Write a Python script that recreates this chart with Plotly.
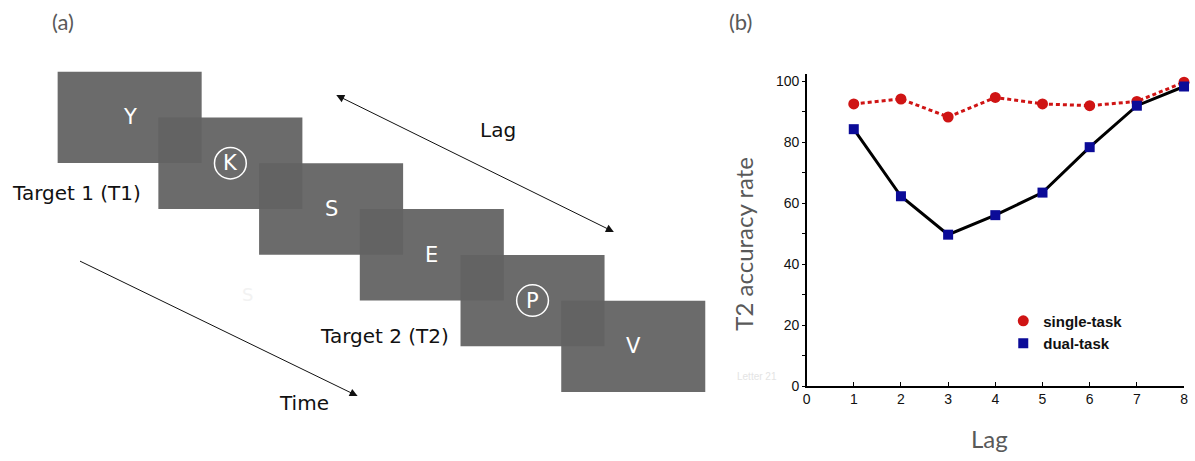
import plotly.graph_objects as go

# ---------------- data ----------------
lags = [1, 2, 3, 4, 5, 6, 7, 8]
single_task = [92.6, 94.2, 88.3, 94.7, 92.6, 92.0, 93.4, 99.7]
dual_task = [84.3, 62.3, 49.7, 56.1, 63.5, 78.4, 92.0, 98.3]
y_ticks = [0, 20, 40, 60, 80, 100]
x_ticks = [0, 1, 2, 3, 4, 5, 6, 7, 8]

stream_letters = ["Y", "K", "S", "E", "P", "V"]
target_index = [1, 4]          # circled letters (T1, T2)
target_labels = ["Target 1 (T1)", "Target 2 (T2)"]

W, H = 1195, 461
RED = "#cf1414"
NAVY = "#0b0b98"
GRAY_TXT = "#595959"

fig = go.Figure()

# ---------------- panel (b): line chart ----------------
fig.add_trace(go.Scatter(
    x=lags, y=single_task, mode="lines+markers", name="single-task",
    line=dict(color=RED, width=3, dash="4px,3px"),
    marker=dict(symbol="circle", size=11, color=RED),
    cliponaxis=False, showlegend=False, xaxis="x", yaxis="y"))
fig.add_trace(go.Scatter(
    x=lags, y=dual_task, mode="lines+markers", name="dual-task",
    line=dict(color="black", width=3),
    marker=dict(symbol="square", size=10, color=NAVY),
    cliponaxis=False, showlegend=False, xaxis="x", yaxis="y"))
# legend entries (markers only)
fig.add_trace(go.Scatter(x=[None], y=[None], mode="markers", name="single-task",
                         marker=dict(symbol="circle", size=11, color=RED),
                         xaxis="x", yaxis="y"))
fig.add_trace(go.Scatter(x=[None], y=[None], mode="markers", name="dual-task",
                         marker=dict(symbol="square", size=10, color=NAVY),
                         xaxis="x", yaxis="y"))

# ---------------- panel (a): RSVP diagram in pixel-like coordinates ----------------
x0, y0, dx, dy, rw, rh = 54, 73, 101.4, 46.6, 145, 93
shapes = []
annotations = []
for i, letter in enumerate(stream_letters):
    rx = x0 + i * dx
    ry = y0 + i * dy
    shapes.append(dict(type="rect", xref="x2", yref="y2",
                       x0=rx, x1=rx + rw, y0=ry, y1=ry + rh,
                       fillcolor="rgba(98,98,98,0.946)", line=dict(width=0),
                       layer="above"))
    cx, cy = rx + rw / 2, ry + rh / 2
    annotations.append(dict(xref="x2", yref="y2", x=cx, y=cy, text=letter,
                            showarrow=False,
                            font=dict(family="DejaVu Sans", size=21, color="white")))
    if i in target_index:
        shapes.append(dict(type="circle", xref="x2", yref="y2",
                           x0=cx - 16, x1=cx + 16, y0=cy - 16, y1=cy + 16,
                           line=dict(color="white", width=1.5), layer="above"))

lab_font = dict(family="DejaVu Sans", size=20, color="#111111")
annotations += [
    dict(xref="x2", yref="y2", x=140, y=196, text=target_labels[0], showarrow=False,
         xanchor="right", font=lab_font),
    dict(xref="x2", yref="y2", x=450, y=342, text=target_labels[1], showarrow=False,
         xanchor="right", font=lab_font),
    dict(xref="x2", yref="y2", x=497, y=132, text="Lag", showarrow=False, font=lab_font),
    dict(xref="x2", yref="y2", x=302, y=410, text="Time", showarrow=False, font=lab_font),
    # Lag double arrow
    dict(xref="x2", yref="y2", axref="x2", ayref="y2", x=614, y=236, ax=333, ay=96,
         text="", showarrow=True, arrowhead=2, startarrowhead=2, arrowside="end+start",
         arrowwidth=1, arrowsize=1.6, startarrowsize=1.6, arrowcolor="#111111"),
    # Time arrow
    dict(xref="x2", yref="y2", axref="x2", ayref="y2", x=356, y=403, ax=75, ay=265,
         text="", showarrow=True, arrowhead=2, arrowwidth=1, arrowsize=1.6,
         arrowcolor="#111111"),
    # panel labels
    dict(xref="x2", yref="y2", x=59, y=22, text="(a)", showarrow=False,
         font=dict(family="Lato", size=22, color=GRAY_TXT)),
    dict(xref="x2", yref="y2", x=741, y=22, text="(b)", showarrow=False,
         font=dict(family="Lato", size=22, color=GRAY_TXT)),
    # axis titles of panel (b)
    dict(xref="x2", yref="y2", x=745, y=248, text="T2 accuracy rate", showarrow=False,
         textangle=-90, font=dict(family="Lato", size=24, color=GRAY_TXT)),
    dict(xref="x2", yref="y2", x=992, y=446, text="Lag", showarrow=False,
         font=dict(family="Lato", size=24, color=GRAY_TXT)),
    # faint ghost texts present in the source
    dict(xref="x2", yref="y2", x=758, y=383, text="Letter 21", showarrow=False,
         font=dict(family="Liberation Sans", size=10, color="#e4e4e4")),
    dict(xref="x2", yref="y2", x=245, y=300, text="S", showarrow=False,
         font=dict(family="DejaVu Sans", size=18, color="#f2f2f2")),
]

tick_font = dict(family="Liberation Sans, Arial", size=14, color="#111111")

fig.update_layout(
    autosize=True,
    margin=dict(l=0, r=0, t=0, b=0),
    paper_bgcolor="white", plot_bgcolor="rgba(0,0,0,0)",
    xaxis=dict(domain=[808 / W, 1188 / W], range=[0, 8], tickvals=x_ticks,
               showgrid=False, zeroline=False, showline=True, linecolor="black",
               linewidth=1.5, ticks="inside", ticklen=4, tickcolor="black",
               tickfont=tick_font, anchor="y", fixedrange=True),
    yaxis=dict(domain=[68 / H, 386 / H], range=[0, 102.5], tickvals=y_ticks,
               showgrid=False, zeroline=False, showline=True, linecolor="black",
               linewidth=1.5, ticks="outside", ticklen=3, tickcolor="black",
               minor=dict(dtick=10, ticks="outside", ticklen=3, tickcolor="black"),
               tickfont=tick_font, anchor="x", fixedrange=True),
    xaxis2=dict(domain=[0, 1], range=[0, W], visible=False, anchor="y2",
                fixedrange=True),
    yaxis2=dict(domain=[0, 1], range=[H, 0], visible=False, anchor="x2",
                fixedrange=True),
    shapes=shapes,
    annotations=annotations,
    legend=dict(x=1006 / W, y=1 - 310 / H, xanchor="left", yanchor="top",
                bgcolor="rgba(0,0,0,0)", tracegroupgap=0,
                font=dict(family="Liberation Sans, Arial", size=15, color="#111111",
                          weight="bold")),
    showlegend=True,
)

post = (
    "var s=document.documentElement.style;s.margin='0';s.padding='0';s.overflow='hidden';"
    "var b=document.body.style;b.margin='0';b.padding='0';b.overflow='hidden';"
    "var g=document.getElementById('{plot_id}');"
    "g.style.width='100vw';g.style.height='100vh';"
    "Plotly.Plots.resize(g);"
)
fig.write_html("out.html", config={"displayModeBar": False, "staticPlot": True,
                                   "responsive": True},
               default_width="100vw", default_height="100vh",
               post_script=post)
